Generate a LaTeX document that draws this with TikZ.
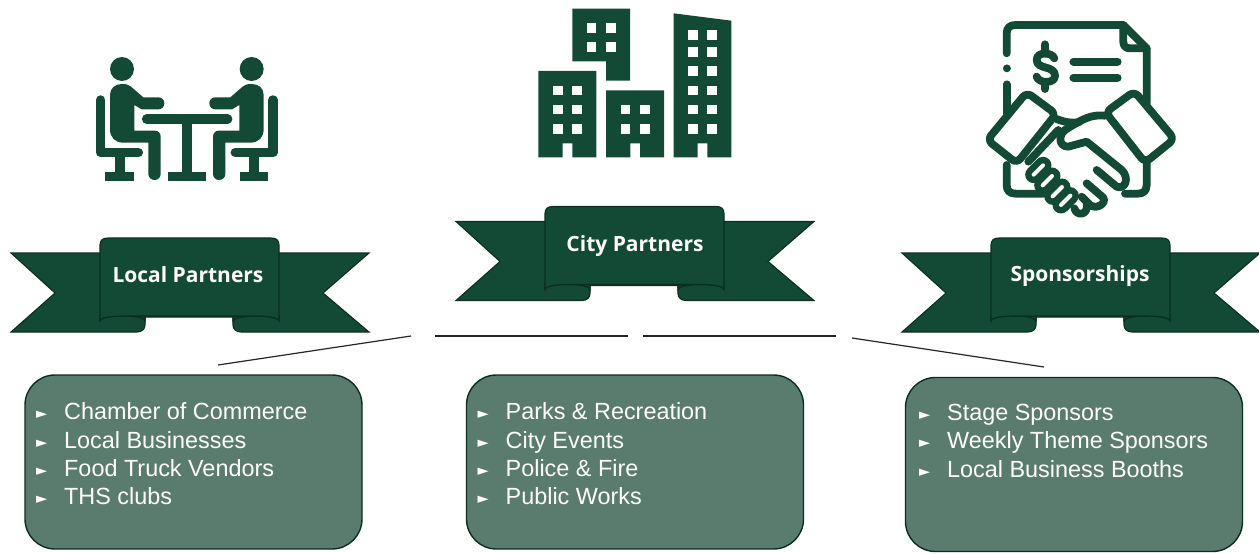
\documentclass[tikz,border=0pt]{standalone}
\usepackage{fontspec}
\setmainfont{Liberation Sans}
\newfontfamily\titlefont{Open Sans}
\newfontfamily\bulletfont{DejaVu Sans}
\definecolor{deep}{HTML}{134A35}
\definecolor{edge}{HTML}{0B2E20}
\definecolor{curl}{HTML}{103F2D}
\definecolor{boxfill}{HTML}{5A7C6E}
\tikzset{
  x=1pt,y=-1pt,
  ink/.style={fill=deep,draw=none},
  pane/.style={fill=white,draw=none},
  limb/.style={draw=deep,line cap=round,line join=round},
  stroke/.style={draw=deep,line width=7.8pt,line cap=round,line join=round},
  infobox/.style={draw=edge,line width=1.4pt,fill=boxfill,rounded corners=30pt,minimum width=337pt,minimum height=174pt,inner sep=0pt},
  listtext/.style={text=white,anchor=north west,align=left,inner sep=0pt,font=\fontsize{23.4}{28.35}\selectfont},
  ribbontitle/.style={text=white,anchor=base,font=\titlefont\bfseries\fontsize{21}{22}\selectfont,inner sep=0pt},
  conn/.style={draw=black!85,line width=1.2pt}
}
\newcommand{\blt}{\makebox[28pt][l]{\raisebox{1pt}{\bulletfont\fontsize{14.5}{14.5}\selectfont ►}}}
\newcommand{\ribbonshape}{%
  \draw[fill=deep,draw=edge,line width=1.1pt]
    (11,253)--(369,253)--(323,293)--(369,332)--(241,332)
    .. controls (236,332) and (233,329) .. (233,325)--(233,317)--(145,317)--(145,325)
    .. controls (145,329) and (142,332) .. (137,332)--(11,332)--(55,293)--cycle;
  \draw[fill=curl,draw=edge,line width=1.1pt] (100,321) arc[start angle=180,end angle=360,x radius=22.5,y radius=5]--(145,316)--(100,316)--cycle;
  \draw[fill=curl,draw=edge,line width=1.1pt] (233,321) arc[start angle=180,end angle=360,x radius=23,y radius=5]--(279,316)--(233,316)--cycle;
  \draw[fill=deep,draw=edge,line width=1.1pt]
    (100,321)--(100,245) .. controls (100,240) and (103,238) .. (108,238)--(271,238)
    .. controls (276,238) and (279,240) .. (279,245)--(279,321)
    .. controls (279,318) and (270,316) .. (256,316)--(122,316)
    .. controls (109,316) and (100,318) .. (100,321)--cycle;
}
\newcommand{\person}{%
  \fill[ink] (126,87) circle[radius=36];
  \fill[ink] (90,165) .. controls (90,145) and (105,132) .. (125,132) .. controls (137,132) and (145,133) .. (152,139)
    --(190,172)--(235,172) .. controls (246,172) and (253,180) .. (253,190) .. controls (253,200) and (246,208) .. (235,208)
    --(185,208)--(163,195)--(163,272)--(225,272) .. controls (235,272) and (242,280) .. (242,290)
    --(242,402) .. controls (242,412) and (234,420) .. (224,420) .. controls (213,420) and (205,412) .. (205,402)
    --(205,308)--(130,308) .. controls (105,308) and (90,292) .. (90,268)--cycle;
  \draw[limb,line width=9.5pt] (62,180)--(62,338)--(175,338);
  \fill[ink] (105,338) rectangle (135,400);
  \fill[ink] (76,396) rectangle (162,424);
}
\begin{document}
\begin{tikzpicture}
\useasboundingbox (0,0) rectangle (1259,554);
% meeting icon
\begin{scope}[shift={(80,40)},x=.33333pt,y=-.33333pt]
  \person
  \draw[limb,line width=9.5pt] (200,237)--(443,237);
  \fill[ink] (305,237) rectangle (335,400);
  \fill[ink] (264,396) rectangle (378,424);
\end{scope}
\begin{scope}[shift={(293.67,40)},x=-.33333pt,y=-.33333pt]
  \person
\end{scope}
% buildings icon
\begin{scope}[shift={(520,0)},x=.33333pt,y=-.33333pt]
  \fill[ink] (157,26)--(330,26)--(330,242)--(258,242)--(258,184)--(157,184)--cycle;
  \fill[ink] (55,213)--(229,213)--(229,472)--(157,472)--(157,430)--(128,430)--(128,472)--(55,472)--cycle;
  \fill[ink] (258,271)--(432,271)--(432,472)--(360,472)--(360,430)--(331,430)--(331,472)--(258,472)--cycle;
  \fill[ink] (461,40)--(634,62)--(634,472)--(562,472)--(562,430)--(533,430)--(533,472)--(461,472)--cycle;
  \foreach \px/\py in {200/69,258/69,200/127,258/127,
      99/257,157/257,99/314,157/314,99/372,157/372,
      302/314,360/314,302/372,360/372,
      504/91,562/91,504/141,562/141,504/199,562/199,504/257,562/257,504/314,562/314,504/372,562/372}
    \fill[pane] (\px,\py) rectangle ++(29,29);
\end{scope}
% contract and handshake icon
\begin{scope}[shift={(975,15)},x=.33333pt,y=-.33333pt]
  \draw[stroke] (95,115)--(95,55) .. controls (95,38) and (105,30) .. (122,30)--(445,30)--(515,100)--(515,265);
  \draw[stroke] (445,30)--(445,80) .. controls (445,93) and (452,100) .. (465,100)--(515,100);
  \draw[stroke] (95,160)--(95,160.1);
  \draw[stroke] (95,208)--(95,295);
  \draw[stroke] (95,450)--(95,510) .. controls (95,528) and (105,536) .. (122,536)--(205,536);
  \draw[stroke] (515,440)--(515,510) .. controls (515,528) and (505,536) .. (488,536)--(450,536);
  % dollar
  \draw[stroke] (210,88)--(210,108);
  \draw[stroke] (210,205)--(210,222);
  \draw[stroke] (238,130) .. controls (232,112) and (185,108) .. (185,135) .. controls (185,165) and (240,150) .. (240,182) .. controls (240,208) and (190,205) .. (185,185);
  \draw[stroke] (295,140)--(428,140);
  \draw[stroke] (295,188)--(428,188);
  % cuffs
  \draw[stroke,rounded corners=6pt] (155,232)--(243,297)--(125,445)--(37,375)--cycle;
  \draw[stroke,rounded corners=6pt] (478,229)--(598,372)--(510,443)--(392,292)--cycle;
  % hands
  \draw[stroke] (245,312) .. controls (270,322) and (290,325) .. (312,322);
  \draw[stroke] (390,302) .. controls (350,298) and (325,310) .. (270,345) .. controls (250,360) and (250,395) .. (280,395)--(335,380)--(440,465) .. controls (465,490) and (450,525) .. (425,515)--(365,465);
  \draw[stroke] (335,505)--(385,548) .. controls (395,565) and (365,585) .. (345,570)--(320,545);
  \draw[stroke] (335,570) .. controls (340,600) and (305,605) .. (298,580);
  \draw[stroke] (250,345)--(160,440);
  \foreach \cx/\cy in {190/465,217/497,247/530,272/556}{
    \draw[draw=deep,line width=17pt,line cap=round] (\cx+14,\cy-14)--(\cx-14,\cy+14);
  }
  \foreach \cx/\cy in {190/465,217/497,247/530,272/556}{
    \draw[draw=white,line width=4pt,line cap=round] (\cx+14,\cy-14)--(\cx-14,\cy+14);
  }
\end{scope}
% ribbons
\ribbonshape
\node[ribbontitle] (local) at (188,282) {Local Partners};
\begin{scope}[shift={(445,-31.5)}]
  \ribbonshape
\end{scope}
\node[ribbontitle] (city) at (635,251) {City Partners};
\begin{scope}[shift={(891,0)}]
  \ribbonshape
\end{scope}
\node[ribbontitle] (spons) at (1080,281) {Sponsorships};
% boxes
\node[infobox] (boxa) at (193.5,462) {};
\node[infobox] (boxb) at (635,462) {};
\node[infobox] (boxc) at (1074,464.5) {};
\node[listtext] (lista) at (36,402.5) {\blt Chamber of Commerce\\\blt Local Businesses\\\blt Food Truck Vendors\\\blt THS clubs};
\node[listtext] (listb) at (477.5,402.5) {\blt Parks \& Recreation\\\blt City Events\\\blt Police \& Fire\\\blt Public Works};
\node[listtext] (listc) at (919,404) {\blt Stage Sponsors\\\blt Weekly Theme Sponsors\\\blt Local Business Booths};
% connector pieces
\coordinate (la) at (218,365);
\coordinate (lb) at (411,336);
\coordinate (ma) at (435,336);
\coordinate (mb) at (628,336);
\coordinate (na) at (643,336);
\coordinate (nb) at (836,336);
\coordinate (ra) at (852,338);
\coordinate (rb) at (1044,367);
\draw[conn] (la)--(lb);
\draw[conn] (ma)--(mb);
\draw[conn] (na)--(nb);
\draw[conn] (ra)--(rb);
\end{tikzpicture}
\end{document}
